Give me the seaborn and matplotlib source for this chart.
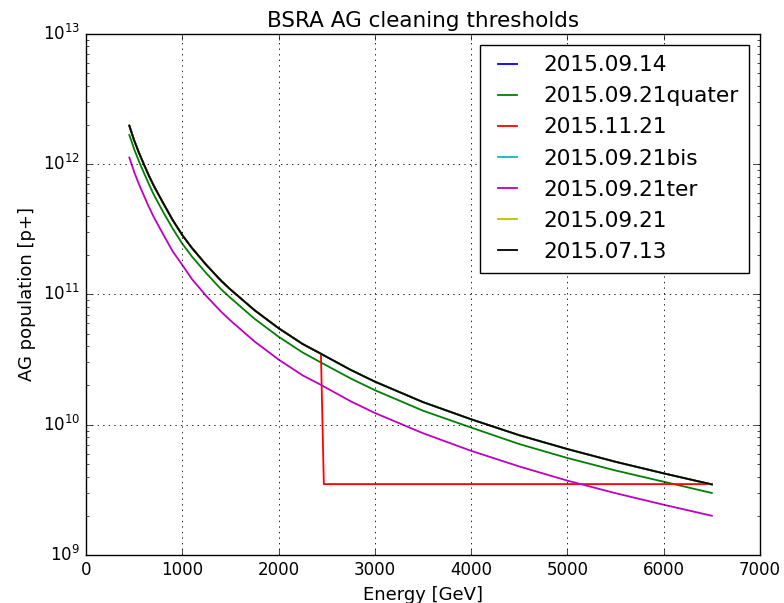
import numpy as np
import pandas as pd
import matplotlib
matplotlib.use("Agg")
import matplotlib.pyplot as plt
import seaborn as sns
from matplotlib.lines import Line2D

plt.style.use("classic")
plt.rcParams["font.family"] = ["DejaVu Sans"]
plt.rcParams["mathtext.fontset"] = "dejavusans"

energy = [450, 475, 500, 550, 600, 650, 700, 800, 900, 1000, 1100, 1250, 1400,
          1500, 1750, 2000, 2250, 2440, 2750, 3000, 3500, 4000, 4500, 5000,
          5500, 6000, 6500]
black_vals = [1.97e12, 1.73e12, 1.52e12, 1.22e12, 1.0e12, 8.24e11, 6.9e11, 5.04e11,
              3.72e11, 2.85e11, 2.27e11, 1.68e11, 1.28e11, 1.09e11, 7.56e10, 5.5e10,
              4.16e10, 3.5e10, 2.63e10, 2.14e10, 1.49e10, 1.10e10, 8.3e9, 6.5e9,
              5.19e9, 4.23e9, 3.48e9]
green_vals = [1.67e12, 1.48e12, 1.30e12, 1.05e12, 8.6e11, 7.1e11, 5.9e11, 4.3e11,
              3.2e11, 2.45e11, 1.95e11, 1.45e11, 1.1e11, 9.4e10, 6.5e10, 4.73e10,
              3.58e10, 3.0e10, 2.26e10, 1.84e10, 1.28e10, 9.5e9, 7.1e9, 5.55e9,
              4.45e9, 3.65e9, 2.99e9]
magenta_vals = [1.12e12, 9.9e11, 8.7e11, 7.0e11, 5.75e11, 4.74e11, 3.97e11, 2.9e11,
                2.14e11, 1.68e11, 1.31e11, 9.7e10, 7.4e10, 6.3e10, 4.35e10, 3.16e10,
                2.39e10, 2.02e10, 1.51e10, 1.23e10, 8.6e9, 6.3e9, 4.78e9, 3.72e9,
                2.98e9, 2.43e9, 2.0e9]
red_energy = [450, 475, 500, 550, 600, 650, 700, 800, 900, 1000, 1100, 1250, 1400,
              1500, 1750, 2000, 2250, 2440, 2470, 6500]
red_vals = [1.97e12, 1.73e12, 1.52e12, 1.22e12, 1.0e12, 8.24e11, 6.9e11, 5.04e11,
            3.72e11, 2.85e11, 2.27e11, 1.68e11, 1.28e11, 1.09e11, 7.56e10, 5.5e10,
            4.16e10, 3.5e10, 3.5e9, 3.5e9]

labels = ["2015.09.14", "2015.09.21quater", "2015.11.21", "2015.09.21bis",
          "2015.09.21ter", "2015.09.21", "2015.07.13"]
colors = ["#0000ff", "#008000", "#ff0000", "#00bfbf", "#bf00bf", "#bfbf00", "#000000"]

series = {
    "2015.09.14": (energy, black_vals),
    "2015.09.21quater": (energy, green_vals),
    "2015.11.21": (red_energy, red_vals),
    "2015.09.21bis": (energy, black_vals),
    "2015.09.21ter": (energy, magenta_vals),
    "2015.09.21": (energy, black_vals),
    "2015.07.13": (energy, black_vals),
}
rows = []
for name in labels:
    xs, ys = series[name]
    for x, y in zip(xs, ys):
        rows.append({"Energy": x, "AG": y, "series": name})
df = pd.DataFrame(rows)

fig = plt.figure(figsize=(7.84, 6.03), dpi=100, facecolor="white")
ax = fig.add_axes([86/784, 1-555/603, (760-86)/784, (555-33.7)/603])
ax.set_facecolor("white")

sns.lineplot(data=df, x="Energy", y="AG", hue="series", hue_order=labels,
             palette=dict(zip(labels, colors)), sort=False, estimator=None,
             units="series", linewidth=1.3, ax=ax, legend=False)
ax.set_yscale("log")
ax.set_xlim(0, 7000)
ax.set_ylim(1e9, 1e13)
ax.grid(True, color="black", linestyle=":", linewidth=0.6)
ax.set_title("BSRA AG cleaning thresholds", fontsize=15.5)
ax.set_xlabel("Energy [GeV]", fontsize=13)
ax.set_ylabel("AG population [p+]", fontsize=13)
ax.tick_params(labelsize=12)

handles = [Line2D([], [], color=c, linewidth=1.3) for c in colors]
leg = ax.legend(handles, labels, loc="upper right", fontsize=15.6, frameon=True,
                fancybox=False, borderaxespad=0.5, handlelength=1.5,
                handletextpad=0.9, labelspacing=0.51, borderpad=0.5)
leg.get_frame().set_edgecolor("black")
leg.get_frame().set_linewidth(1.0)

fig.savefig("out.png", dpi=100, facecolor="white")
